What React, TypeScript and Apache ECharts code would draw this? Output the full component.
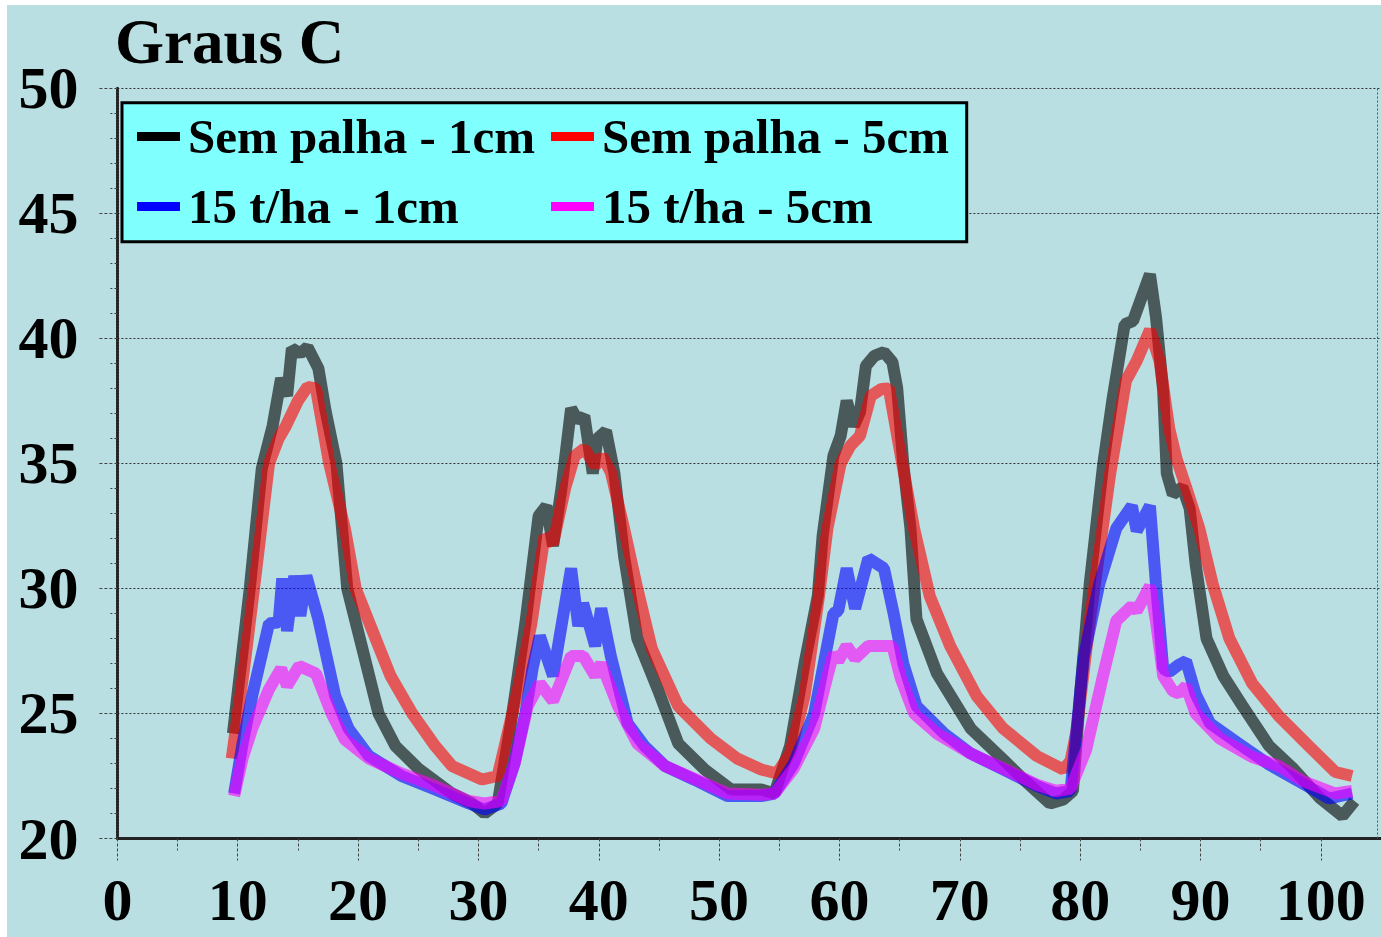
import React, { useEffect, useRef } from "react";
import * as echarts from "echarts";

const titleText = "Graus C";
const seriesNames = ["Sem palha - 1cm", "Sem palha - 5cm", "15 t/ha - 1cm", "15 t/ha - 5cm"];
const seriesColors = ["#000000", "#ff0000", "#0000ff", "#ff00ff"];

const xMin = 0;
const xMax = 105;
const xInterval = 10;
const yMin = 20;
const yMax = 50;
const yInterval = 5;

const semPalha1cm: [number, number][] = [
  [9.6, 24.2], [10.4, 27.5], [11.0, 30.0], [12.0, 34.8], [12.9, 36.5], [13.6, 38.4], [14.1, 37.7],
  [14.5, 39.6], [15.2, 39.4], [15.8, 39.65], [16.7, 38.8], [17.3, 37.1], [18.2, 35.0], [19.1, 30.0],
  [20.3, 27.7], [21.7, 25.0], [23.1, 23.7], [25.0, 22.8], [27.8, 21.8], [29.5, 21.4], [30.5, 21.0],
  [31.6, 21.4], [32.7, 24.6], [33.9, 28.6], [35.0, 32.9], [35.65, 33.3], [36.2, 31.7], [36.9, 34.0],
  [37.7, 37.2], [38.3, 36.7], [38.8, 36.9], [39.5, 34.6], [39.9, 36.0], [40.6, 36.3], [41.3, 34.6],
  [42.1, 31.3], [43.2, 28.0], [44.9, 25.97], [46.6, 23.8], [48.8, 22.76], [51.0, 21.96], [53.5, 21.96],
  [54.6, 21.8], [55.9, 23.7], [57.1, 27.0], [58.2, 29.7], [58.6, 32.1], [59.5, 35.3], [60.1, 36.1],
  [60.6, 37.5], [61.2, 36.5], [61.7, 37.04], [62.2, 38.9], [62.9, 39.3], [63.7, 39.45], [64.4, 39.05],
  [64.8, 38.0], [65.3, 35.0], [65.9, 32.4], [66.4, 28.77], [68.1, 26.6], [70.9, 24.4], [73.3, 23.3],
  [75.3, 22.36], [77.5, 21.4], [78.6, 21.56], [79.4, 21.9], [80.0, 25.8], [80.8, 30.2], [81.9, 34.9],
  [82.7, 37.6], [83.7, 40.56], [84.4, 40.7], [85.8, 42.56], [86.3, 40.86], [86.9, 37.9], [87.2, 34.6],
  [87.7, 33.76], [88.5, 34.05], [89.1, 33.2], [89.6, 30.95], [90.5, 28.0], [91.9, 26.5], [93.5, 25.3],
  [95.7, 23.7], [97.7, 22.8], [99.9, 21.63], [101.8, 20.9], [102.8, 21.5],
];

const semPalha5cm: [number, number][] = [
  [9.5, 23.2], [10.5, 26.7], [11.35, 30.0], [12.6, 35.0], [13.4, 36.0], [14.0, 36.5], [15.0, 37.5],
  [15.8, 38.06], [16.5, 38.0], [17.6, 35.0], [18.9, 32.4], [19.8, 30.0], [21.7, 27.7], [22.7, 26.5],
  [24.5, 25.0], [26.4, 23.7], [27.8, 22.9], [30.3, 22.36], [31.6, 22.5], [33.3, 26.0], [34.4, 28.6],
  [35.5, 32.1], [36.2, 31.8], [37.2, 34.0], [38.0, 35.3], [38.8, 35.6], [39.7, 34.9], [40.3, 35.3],
  [41.0, 34.65], [42.1, 32.4], [43.2, 30.0], [44.4, 27.6], [46.6, 25.3], [49.3, 24.0], [51.5, 23.2],
  [53.5, 22.76], [54.8, 22.6], [55.9, 23.4], [57.1, 25.7], [58.3, 29.7], [59.0, 32.4], [60.1, 35.0],
  [60.9, 35.7], [61.7, 36.1], [62.6, 37.7], [63.5, 37.98], [64.1, 38.0], [65.1, 35.3], [66.2, 32.4],
  [67.5, 29.7], [69.2, 27.7], [71.4, 25.7], [73.6, 24.4], [76.4, 23.3], [78.6, 22.76], [79.2, 23.1],
  [79.7, 24.3], [80.8, 28.7], [82.5, 34.6], [83.8, 38.3], [84.7, 39.1], [85.8, 40.34], [86.6, 39.1],
  [87.4, 36.4], [88.0, 35.2], [88.8, 34.05], [89.9, 32.4], [91.0, 30.2], [92.4, 28.0], [94.3, 26.2],
  [96.5, 24.9], [99.0, 23.7], [101.2, 22.66], [102.6, 22.5],
];

const palha15t1cm: [number, number][] = [
  [9.7, 21.8], [10.4, 23.8], [11.2, 25.7], [12.6, 28.6], [13.4, 28.65], [13.7, 30.4], [14.1, 28.3],
  [14.7, 30.5], [15.2, 28.9], [15.7, 30.5], [16.7, 28.77], [18.1, 25.7], [19.2, 24.4], [20.9, 23.3],
  [23.6, 22.5], [26.4, 21.96], [29.2, 21.4], [30.5, 21.16], [31.9, 21.4], [33.0, 23.0], [33.9, 25.0],
  [34.5, 26.8], [35.1, 28.1], [36.2, 26.5], [37.7, 30.8], [38.3, 28.5], [38.7, 29.4], [39.7, 27.7],
  [40.2, 29.2], [41.0, 27.3], [42.4, 24.6], [43.8, 23.7], [45.5, 22.9], [47.9, 22.36], [50.7, 21.7],
  [53.5, 21.7], [54.6, 21.8], [56.2, 23.0], [57.9, 25.0], [58.7, 27.0], [59.5, 29.0], [59.9, 29.1],
  [60.6, 30.8], [61.3, 29.2], [62.4, 31.2], [63.7, 30.8], [64.5, 29.0], [65.3, 27.0], [66.4, 25.3],
  [68.7, 24.2], [70.9, 23.4], [73.6, 22.76], [76.4, 22.1], [78.0, 21.8], [79.2, 21.9], [80.3, 27.25],
  [81.6, 30.2], [83.0, 32.4], [84.3, 33.3], [84.7, 32.3], [85.8, 33.3], [86.3, 30.2], [86.9, 26.8],
  [87.4, 26.66], [88.2, 26.95], [88.8, 27.1], [89.6, 25.77], [90.8, 24.6], [93.0, 23.85], [95.7, 22.96],
  [98.5, 22.2], [100.7, 21.6], [102.6, 21.8],
];

const palha15t5cm: [number, number][] = [
  [9.7, 21.7], [10.4, 23.2], [11.2, 24.4], [12.6, 25.97], [13.6, 26.8], [14.1, 26.1], [15.1, 26.9],
  [16.5, 26.6], [17.8, 25.0], [18.9, 23.96], [20.9, 23.2], [23.6, 22.6], [26.4, 22.1], [29.2, 21.5],
  [30.5, 21.4], [31.9, 21.5], [33.0, 23.0], [34.1, 25.3], [35.1, 26.2], [36.2, 25.5], [37.7, 27.3],
  [38.7, 27.3], [39.7, 26.5], [40.2, 27.0], [41.6, 25.3], [43.2, 23.8], [45.5, 22.9], [47.9, 22.4],
  [50.7, 21.8], [53.5, 21.75], [54.6, 21.8], [56.2, 22.8], [57.9, 24.4], [59.0, 26.5], [59.5, 27.4],
  [59.9, 27.1], [60.6, 27.7], [61.3, 27.2], [62.4, 27.7], [63.7, 27.7], [64.4, 27.7], [65.1, 26.4],
  [66.2, 25.0], [68.1, 24.2], [70.9, 23.4], [73.6, 22.8], [76.4, 22.15], [78.0, 21.9], [79.2, 22.0],
  [80.5, 23.55], [81.9, 26.5], [83.0, 28.7], [84.3, 29.3], [84.7, 29.1], [85.8, 30.1], [86.3, 28.7],
  [86.9, 26.5], [87.7, 25.9], [88.2, 25.8], [88.8, 26.1], [89.6, 25.0], [91.6, 24.0], [94.3, 23.26],
  [96.5, 22.9], [98.5, 22.3], [101.2, 21.8], [102.6, 21.9],
];

const seriesData = [semPalha1cm, semPalha5cm, palha15t1cm, palha15t5cm];

const FONT = '"Liberation Serif", "Times New Roman", serif';

const legendPositions = [
  { left: 130, top: 107 },
  { left: 544, top: 107 },
  { left: 130, top: 177 },
  { left: 544, top: 177 },
];

export default function App() {
  const ref = useRef<HTMLDivElement>(null);
  useEffect(() => {
    const chart = echarts.init(ref.current!, null, { renderer: "svg" });
    const tickStyle = { color: "#444", width: 1, type: [3, 2] as number[] };
    const option: any = {
      animation: false,
      backgroundColor: "#b9dfe2",
      grid: { left: 110.4, top: 83.3, right: -3.3, bottom: 98.5, containLabel: false },
      graphic: [
        {
          type: "text",
          x: 108,
          y: 36.7,
          z: 10,
          style: {
            text: titleText,
            font: `bold 63px ${FONT}`,
            fill: "#000",
            verticalAlign: "middle",
          },
        },
        {
          type: "rect",
          z: 3,
          shape: { x: 115, y: 97.7, width: 844.7, height: 139 },
          style: { fill: "#80ffff", stroke: "#000", lineWidth: 3 },
        },
      ],
      legend: seriesNames.map((name, i) => ({
        data: [name],
        left: legendPositions[i].left,
        top: legendPositions[i].top,
        padding: 0,
        z: 6,
        icon: "rect",
        itemWidth: 43,
        itemHeight: 9,
        selectedMode: false,
        textStyle: {
          fontSize: 49,
          fontWeight: "bold",
          fontFamily: FONT,
          color: "#000",
          lineHeight: 48,
          padding: [0, 0, 0, 3],
        },
      })),
      xAxis: {
        type: "value",
        min: xMin,
        max: xMax,
        interval: xInterval,
        axisLine: { show: true, onZero: false, lineStyle: { color: "#222", width: 3, type: [2, 1] } },
        axisTick: { show: true, length: 22, lineStyle: tickStyle },
        minorTick: { show: true, splitNumber: 2, length: 12, lineStyle: tickStyle },
        splitLine: { show: false },
        axisLabel: {
          margin: 31,
          fontSize: 60,
          fontWeight: "bold",
          fontFamily: FONT,
          color: "#000",
          showMaxLabel: false,
        },
      },
      yAxis: {
        type: "value",
        min: yMin,
        max: yMax,
        interval: yInterval,
        axisLine: { show: true, lineStyle: { color: "#222", width: 3, type: [2, 1] } },
        axisTick: { show: true, length: 18, lineStyle: tickStyle },
        minorTick: { show: true, splitNumber: 5, length: 7, lineStyle: tickStyle },
        splitLine: { show: true, lineStyle: { color: "#333", width: 1, type: [2, 2] } },
        axisLabel: {
          margin: 39,
          fontSize: 60,
          fontWeight: "bold",
          fontFamily: FONT,
          color: "#000",
          padding: [0, 0, 6, 0],
        },
      },
      series: seriesNames.map((name, i) => ({
        name,
        type: "line",
        data: seriesData[i],
        showSymbol: false,
        silent: true,
        z: 2 + i,
        itemStyle: { color: seriesColors[i] },
        lineStyle: { color: seriesColors[i], width: 12, opacity: 0.6 },
        markLine:
          i === 0
            ? {
                silent: true,
                symbol: "none",
                label: { show: false },
                lineStyle: { color: "#555", width: 1, type: [2, 2] },
                data: [{ xAxis: 104.65 }],
              }
            : undefined,
      })),
    };
    chart.setOption(option);
    return () => chart.dispose();
  }, []);
  return (
    <div style={{ position: "fixed", left: 0, top: 0, width: 1381, height: 937, background: "#fff" }}>
      <div ref={ref} style={{ position: "absolute", left: 7, top: 5, width: 1374, height: 932 }} />
    </div>
  );
}
